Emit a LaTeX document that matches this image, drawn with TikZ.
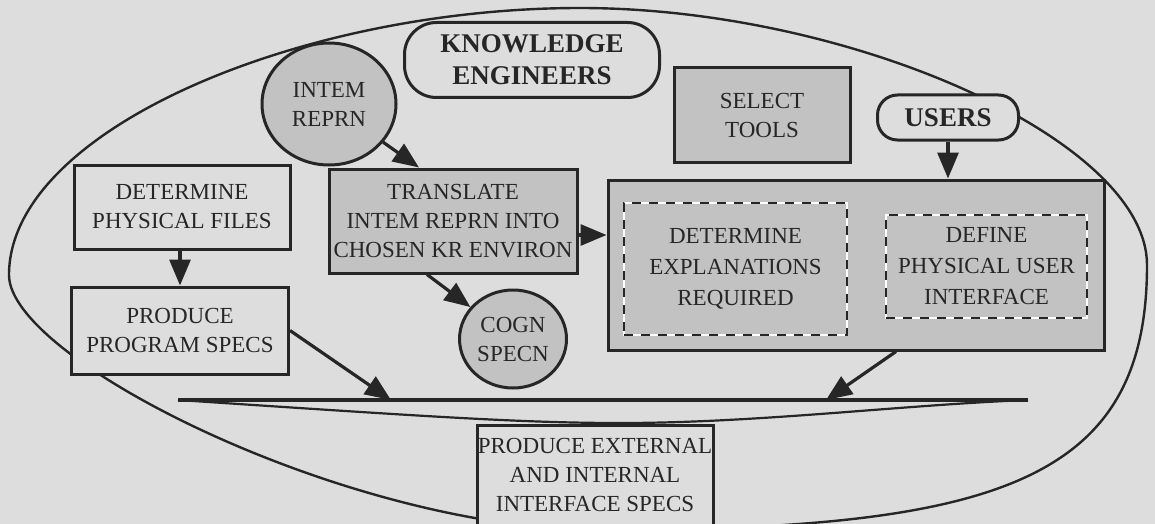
\documentclass[tikz,border=0pt]{standalone}
\usepackage{fontspec}
\setmainfont{Liberation Serif}
\usetikzlibrary{arrows.meta,shapes.geometric,calc}
\definecolor{paper}{RGB}{221,221,221}
\definecolor{ink}{RGB}{38,38,38}
\definecolor{shade}{RGB}{194,194,194}

\begin{document}
\begin{tikzpicture}[x=0.5pt,y=-0.5pt,
  every node/.style={text=ink},
  txt/.style={font=\fontsize{11.5}{14.5}\selectfont, align=center},
  plain/.style={draw=ink, line width=1.5pt, fill=paper, inner sep=0pt, txt},
  shaded/.style={plain, fill=shade},
  bubble/.style={ellipse, draw=ink, line width=1.5pt, fill=shade, inner sep=0pt, txt},
  actor/.style={draw=ink, line width=1.5pt, fill=paper, inner sep=0pt,
    font=\bfseries\fontsize{13.5}{16}\selectfont, align=center},
  dashbox/.style={inner sep=0pt, fill=shade, draw=white, line width=1.3pt,
    font=\fontsize{11.5}{15.5}\selectfont, align=center,
    postaction={draw=ink, line width=1.4pt, dash pattern=on 4.5pt off 4pt}},
  flow/.style={draw=ink, line width=1.6pt, -{Triangle[length=13pt,width=10.5pt]}},
]
% page and clipping
\path[use as bounding box, fill=paper] (0,0) rectangle (1155,524);
\clip (0,0) rectangle (1155,524);

% the enclosing boundary
\draw[ink, line width=1.2pt] (9,275) .. controls (9,130) and (300,8) .. (580,8)
  .. controls (850,8) and (1147,140) .. (1147,265)
  .. controls (1147,480) and (1000,530) .. (600,530)
  .. controls (350,530) and (9,360) .. (9,275) -- cycle;

% merge bar
\coordinate (wl) at (178,400);
\coordinate (wr) at (1028,400);
\coordinate (wm) at (620,423);
\coordinate (pa) at (391,400);
\coordinate (pb) at (826,400);
\draw[ink, line width=1.6pt] (wl) -- (wr);
\draw[ink, line width=1.1pt] (wl) .. controls (420,416) and (520,423) .. (wm)
  .. controls (760,423) and (900,405) .. (wr);

% external agents
\node[actor, minimum width=127.5pt, minimum height=37.5pt, rounded corners=16pt] (ke) at (532,60) {KNOWLEDGE\\ENGINEERS};
\node[actor, minimum width=70.5pt, minimum height=22.5pt, rounded corners=10pt] (us) at (948,117.5) {USERS};

% data stores
\node[bubble, minimum width=67pt, minimum height=61pt] (ir) at (329,104) {INTEM\\REPRN};
\node[bubble, minimum width=53.5pt, minimum height=49pt] (cs) at (513,339) {COGN\\SPECN};

% processes
\node[shaded, minimum width=88pt, minimum height=47pt] (st) at (762,115) {SELECT\\TOOLS};
\node[shaded, minimum width=248pt, minimum height=85pt] (bb) at (856,265) {};
\node[dashbox, minimum width=111.5pt, minimum height=66pt] (de) at (735.5,269) {DETERMINE\\EXPLANATIONS\\REQUIRED};
\node[dashbox, minimum width=100.5pt, minimum height=51.5pt] (dp) at (986.5,266.5) {DEFINE\\PHYSICAL USER\\INTERFACE};
\node[shaded, minimum width=124pt, minimum height=52pt] (tr) at (453,221) {TRANSLATE\\INTEM REPRN INTO\\CHOSEN KR ENVIRON};
\node[plain, minimum width=108pt, minimum height=42pt] (df) at (182,207) {DETERMINE\\PHYSICAL FILES};
\node[plain, minimum width=108.5pt, minimum height=43.5pt] (pp) at (180,330.5) {PRODUCE\\PROGRAM SPECS};
\node[plain, minimum width=118pt, minimum height=50pt] (pe) at (595,475) {PRODUCE EXTERNAL\\AND INTERNAL\\INTERFACE SPECS};

% flows
\draw[flow] (ir) -- ([xshift=-17pt]tr.north);
\draw[flow] ([xshift=-13pt]tr.south) -- (cs);
\draw[flow] ([yshift=-7pt]tr.east) -- ([yshift=-7pt]tr.east -| bb.west);
\draw[flow] (pp.north |- df.south) -- (pp.north);
\draw[flow] (us.south) -- (us.south |- bb.north);
\draw[flow] (pp.east) -- (pa);
\draw[flow] ([xshift=20pt]bb.south) -- (pb);
\end{tikzpicture}
\end{document}
